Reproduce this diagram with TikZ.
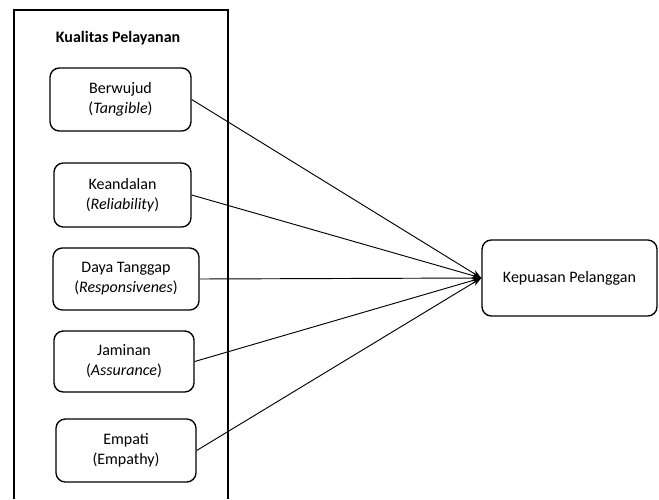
\documentclass[tikz,border=0pt]{standalone}
\usepackage{fontspec}
\setmainfont{Carlito}
\usepackage{tikz}
\usetikzlibrary{arrows.meta}

\tikzset{
  dimbox/.style={draw, rounded corners=7pt, line width=1pt, align=center,
    inner sep=0pt, font=\fontsize{12}{15}\selectfont},
  link/.style={-{Stealth[length=7pt,width=5pt]}, line width=0.7pt}
}

\begin{document}
\begin{tikzpicture}[x=0.75pt,y=-0.75pt]
\useasboundingbox (0,0) rectangle (659,499);
\draw[line width=2.2pt] (14,499) -- (14,10) -- (228,10) -- (228,499); % frame, open at the bottom
\node[font=\fontsize{12}{14}\bfseries] (title) at (118,38) {Kualitas Pelayanan};
\node[dimbox, minimum width=105.75pt, minimum height=47.25pt] (tangible) at (120.5,99.5) {Berwujud\\(\textit{Tangible})};
\node[dimbox, minimum width=102.75pt, minimum height=48pt] (reliab) at (122.5,195) {Keandalan\\(\textit{Reliability})};
\node[dimbox, minimum width=109.5pt, minimum height=46.5pt] (respons) at (126,279) {Daya Tanggap\\(\textit{Responsivenes})};
\node[dimbox, minimum width=105pt, minimum height=45.75pt] (assur) at (124,361.5) {Jaminan\\(\textit{Assurance})};
\node[dimbox, minimum width=105pt, minimum height=47.25pt] (empathy) at (126,450.5) {Empati\\(Empathy)};
\node[dimbox, minimum width=131.25pt, minimum height=57pt] (kepuasan) at (569.5,278) {Kepuasan Pelanggan};
\draw[link] (tangible.east) -- (kepuasan.west);
\draw[link] (reliab.east) -- (kepuasan.west);
\draw[link] (respons.east) -- (kepuasan.west);
\draw[link] (assur.east) -- (kepuasan.west);
\draw[link] (empathy.east) -- (kepuasan.west);
\end{tikzpicture}
\end{document}
